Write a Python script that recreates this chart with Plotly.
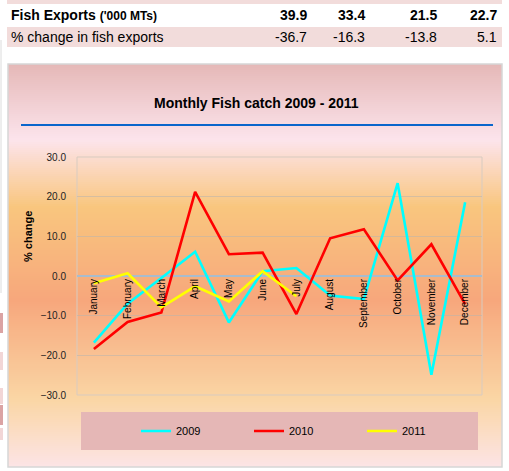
import plotly.graph_objects as go

# ---------------- data ----------------
months = ["January", "February", "March", "April", "May", "June", "July",
          "August", "September", "October", "November", "December"]
y2009 = [-16.8, -7.0, -0.5, 6.1, -11.7, 1.2, 2.0, -4.9, -5.8, 23.4, -24.9, 18.6]
y2010 = [-18.4, -11.6, -9.2, 21.2, 5.5, 5.9, -9.6, 9.5, 11.8, -1.1, 8.0, -7.1]
y2011 = [-1.8, 0.7, -7.9, -2.6, -6.4, 1.2, -5.1]
series_names = ["2009", "2010", "2011"]
series_colors = ["#00ffff", "#ff0000", "#ffff00"]

table_years_cols = [309, 367, 439, 499]
exports = ["39.9", "33.4", "21.5", "22.7"]
pct_change = ["-36.7", "-16.3", "-13.8", "5.1"]
y_ticks = [-30, -20, -10, 0, 10, 20, 30]

# ---------------- geometry helpers ----------------
W, H = 509, 471
PL, PR, PT, PB = 77, 482, 157, 395


def px(x):
    return (x - PL) / (PR - PL)


def py(y):
    return (PB - y) / (PB - PT)


FONT = "Arial, 'Liberation Sans', sans-serif"

fig = go.Figure()
for name, vals, col in zip(series_names, [y2009, y2010, y2011], series_colors):
    fig.add_trace(go.Scatter(x=months[:len(vals)], y=vals, name=name, mode="lines",
                             line=dict(color=col, width=2.6)))

shapes = []

# gradient background of chart box (stripes)
stops = [(64, (229, 184, 183)), (140, (252, 228, 236)), (207, (249, 198, 126)),
         (300, (247, 167, 124)), (400, (250, 214, 165)), (467, (252, 228, 230))]


def col_at(y):
    for (y0, c0), (y1, c1) in zip(stops[:-1], stops[1:]):
        if y0 <= y <= y1:
            t = (y - y0) / (y1 - y0)
            return "rgb(%d,%d,%d)" % tuple(round(a + (b - a) * t) for a, b in zip(c0, c1))
    return "rgb(%d,%d,%d)" % stops[-1][1]


y = 64
while y < 467:
    shapes.append(dict(type="rect", xref="paper", yref="paper", layer="below",
                       x0=px(8), x1=px(502), y0=py(y), y1=py(min(y + 2, 467)),
                       fillcolor=col_at(y + 1), line=dict(width=0)))
    y += 2

# chart box border
shapes.append(dict(type="rect", xref="paper", yref="paper", layer="below",
                   x0=px(8), x1=px(502), y0=py(64), y1=py(467),
                   line=dict(color="#d6d6d6", width=1.5)))
# title underline
shapes.append(dict(type="line", xref="paper", yref="paper", x0=px(21), x1=px(493),
                   y0=py(125), y1=py(125), line=dict(color="#0a66cc", width=2)))
# plot area frame
shapes.append(dict(type="rect", xref="paper", yref="paper", layer="below",
                   x0=0, x1=1, y0=0, y1=1, line=dict(color="#d8cbc0", width=1)))
# legend box
shapes.append(dict(type="rect", xref="paper", yref="paper", layer="below",
                   x0=px(81), x1=px(478), y0=py(412), y1=py(450),
                   fillcolor="#e5b7b6", line=dict(width=0)))
# table rows backgrounds
shapes.append(dict(type="rect", xref="paper", yref="paper", layer="below",
                   x0=px(7), x1=px(502), y0=py(0), y1=py(4),
                   fillcolor="#f2dcdb", line=dict(width=0)))
shapes.append(dict(type="rect", xref="paper", yref="paper", layer="below",
                   x0=px(7), x1=px(502), y0=py(27), y1=py(47),
                   fillcolor="#f2dcdb", line=dict(width=0)))
# left-edge fragments of the page
shapes.append(dict(type="line", xref="paper", yref="paper", x0=px(1), x1=px(1),
                   y0=py(40), y1=py(293), line=dict(color="#dcdcdc", width=1)))
for (a, b, c) in [(313, 333, "#dba3a3"), (352, 370, "#f2d6d6"), (388, 404, "#f2d6d6"),
                  (405, 425, "#dba3a3"), (428, 440, "#f2d6d6")]:
    shapes.append(dict(type="rect", xref="paper", yref="paper", layer="below",
                       x0=px(0), x1=px(3), y0=py(a), y1=py(b),
                       fillcolor=c, line=dict(width=0)))

annotations = []
# title
annotations.append(dict(text="<b>Monthly Fish catch 2009 - 2011</b>", xref="paper", yref="paper",
                        x=px(256), y=py(103), xanchor="center", yanchor="middle",
                        showarrow=False, font=dict(family=FONT, size=14, color="#000000")))
# y axis title
annotations.append(dict(text="<b>% change</b>", xref="paper", yref="paper", textangle=-90,
                        x=px(28), y=py(237), xanchor="center", yanchor="middle",
                        showarrow=False, font=dict(family=FONT, size=11, color="#000000")))
# table
annotations.append(dict(text="<b>Fish Exports </b><b><span style='font-size:12px'>('000 MTs)</span></b>",
                        xref="paper", yref="paper", x=px(9), y=py(15), xanchor="left",
                        yanchor="middle", showarrow=False,
                        font=dict(family=FONT, size=14, color="#000000")))
annotations.append(dict(text="% change in fish exports", xref="paper", yref="paper",
                        x=px(9), y=py(37), xanchor="left", yanchor="middle", showarrow=False,
                        font=dict(family=FONT, size=14, color="#000000")))
for xr, e, p in zip(table_years_cols, exports, pct_change):
    annotations.append(dict(text="<b>%s</b>" % e, xref="paper", yref="paper", x=px(xr),
                            y=py(15), xanchor="right", yanchor="middle", showarrow=False,
                            font=dict(family=FONT, size=14, color="#000000")))
    annotations.append(dict(text=p, xref="paper", yref="paper", x=px(xr),
                            y=py(37), xanchor="right", yanchor="middle", showarrow=False,
                            font=dict(family=FONT, size=14, color="#000000")))

fig.update_layout(
    width=W, height=H,
    margin=dict(l=PL, r=W - PR, t=PT, b=H - PB, pad=0),
    paper_bgcolor="#ffffff", plot_bgcolor="rgba(0,0,0,0)",
    font=dict(family=FONT, size=10, color="#000000"),
    showlegend=True,
    legend=dict(orientation="h", x=px(136), y=py(431), xanchor="left", yanchor="middle",
                bgcolor="rgba(0,0,0,0)", entrywidth=68, entrywidthmode="pixels",
                font=dict(family=FONT, size=11, color="#000000"), itemwidth=30),
    shapes=shapes, annotations=annotations,
    xaxis=dict(type="category", categoryorder="array", categoryarray=months,
               anchor="free", position=0.5, showgrid=False, showline=False, ticks="",
               tickangle=-90, tickfont=dict(family=FONT, size=10, color="#000000"),
               range=[-0.5, 11.5], zeroline=False),
    yaxis=dict(range=[-30, 30], tickvals=y_ticks, tickformat=".1f",
               showgrid=True, gridcolor="rgba(185,180,175,0.55)", gridwidth=1,
               zeroline=True, zerolinecolor="#a9bccd", zerolinewidth=1.5,
               showline=False, ticks="", ticklabelstandoff=10,
               tickfont=dict(family=FONT, size=10, color="#222222")),
)

fig.write_html("out.html", config={"displayModeBar": False},
               post_script="document.body.style.margin='0';")
